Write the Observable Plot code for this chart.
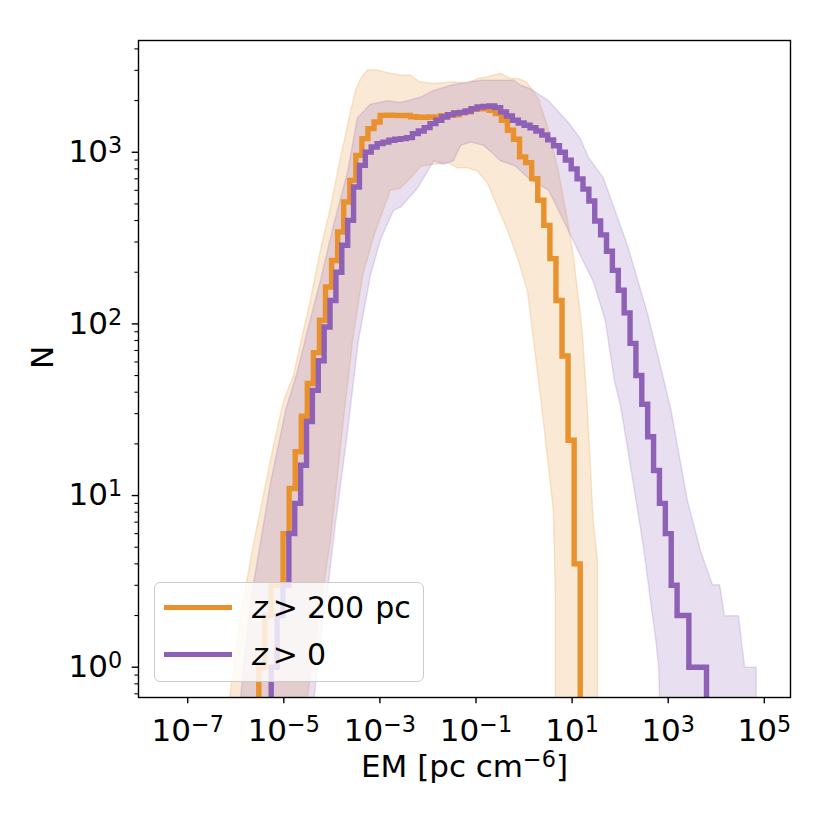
<!DOCTYPE html>
<html><head><meta charset="utf-8">
<script src="https://cdn.jsdelivr.net/npm/d3@7"></script>
<script src="https://cdn.jsdelivr.net/npm/@observablehq/plot@0.6"></script>
<style>
html,body{margin:0;padding:0;background:#fff;}
#wrap{position:relative;width:830px;height:830px;font-family:"DejaVu Sans",sans-serif;overflow:hidden;}
#legend{position:absolute;left:154px;top:582px;width:270px;height:100px;box-sizing:border-box;border:1.4px solid #cccccc;border-radius:6px;background:rgba(255,255,255,0.8);}
.sw{position:absolute;left:9px;width:68px;height:5.4px;}
.lt{position:absolute;left:97px;font-size:30px;line-height:30px;color:#000;white-space:nowrap;font-family:"DejaVu Sans";}
.lt i{font-style:italic;}
</style></head>
<body><div id="wrap"></div>
<script>
// ---- data ----
const ORANGE = "#E8912D", PURPLE = "#8E60B6";
// histogram counts per log-bin
const orangeCounts = [1,2,3,3,6,11,18,29,45,68,105,164,234,343,513,686,959,1200,1372,1500,1640,1645,1640,1635,1640,1610,1600,1600,1605,1600,1630,1640,1650,1700,1720,1780,1790,1800,1754,1680,1535,1342,1190,940,870,702,525,375,240,137,65,21,4];
const orangeBinStartLog = -5.52, orangeBinWidthLog = 0.1262;
const purpleCounts = [1,2,3,6,9,15,27,41,61,96,137,200,287,401,627,839,1002,1072,1122,1146,1174,1190,1200,1217,1283,1330,1391,1468,1535,1603,1657,1692,1708,1738,1795,1834,1851,1858,1820,1715,1625,1535,1480,1436,1390,1330,1260,1180,1090,1000,900,800,700,610,520,398,330,265,205,157,116,77,50,34,22,14,9,6,3,2,2,1,1,1];
const purpleBinStartLog = -5.262, purpleBinWidthLog = 0.12242;
// shaded bands: [log10 EM, log10 N]
const orangeBandUpper = [[-6.13,-0.18],[-5.90,0.30],[-5.76,0.52],[-5.63,0.72],[-5.42,1.01],[-5.21,1.30],[-5.01,1.55],[-4.80,1.70],[-4.65,1.89],[-4.44,2.15],[-4.24,2.43],[-4.03,2.68],[-3.82,2.97],[-3.61,3.24],[-3.51,3.36],[-3.40,3.43],[-3.26,3.48],[-3.09,3.48],[-2.78,3.46],[-2.57,3.45],[-2.37,3.45],[-2.17,3.41],[-1.88,3.40],[-1.47,3.41],[-1.17,3.40],[-0.97,3.43],[-0.76,3.44],[-0.49,3.46],[-0.28,3.43],[-0.12,3.43],[0.05,3.41],[0.30,3.31],[0.51,3.13],[0.72,2.88],[0.90,2.61],[1.03,2.39],[1.21,1.96],[1.32,1.50],[1.44,0.85],[1.53,0.62],[1.53,-0.5]];
const orangeBandLower = [[-6.13,-0.5],[-4.51,-0.5],[-4.51,-0.18],[-4.28,0.27],[-4.03,0.74],[-3.76,1.44],[-3.57,1.90],[-3.36,2.28],[-3.13,2.51],[-2.78,2.78],[-2.57,2.79],[-2.36,2.85],[-2.15,2.92],[-1.88,2.93],[-1.59,2.94],[-1.39,2.91],[-1.18,2.91],[-0.97,2.89],[-0.76,2.82],[-0.55,2.68],[-0.34,2.54],[-0.13,2.38],[0.07,2.19],[0.20,1.90],[0.34,1.58],[0.51,1.16],[0.61,0.91],[0.65,0.39],[0.65,-0.18],[0.67,-0.5],[1.53,-0.5]];
const purpleBandUpper = [[-5.90,-0.18],[-5.69,0.39],[-5.49,0.72],[-5.28,1.07],[-4.96,1.50],[-4.71,1.73],[-4.51,1.96],[-4.24,2.25],[-3.97,2.57],[-3.67,2.89],[-3.47,3.20],[-3.20,3.28],[-2.84,3.30],[-2.57,3.29],[-2.16,3.32],[-1.88,3.36],[-1.53,3.39],[-1.18,3.41],[-0.84,3.42],[-0.49,3.42],[-0.22,3.42],[-0.07,3.39],[0.13,3.37],[0.51,3.30],[0.93,3.17],[1.17,3.08],[1.34,2.97],[1.65,2.85],[2.15,2.46],[2.57,2.06],[3.05,1.51],[3.40,0.97],[3.67,0.68],[3.92,0.48],[4.07,0.48],[4.17,0.30],[4.46,0.30],[4.59,0.0],[4.83,0.0],[4.83,-0.5]];
const purpleBandLower = [[-5.90,-0.5],[-4.37,-0.5],[-4.37,-0.18],[-4.24,0.16],[-4.09,0.45],[-3.92,0.85],[-3.67,1.38],[-3.45,1.90],[-3.20,2.28],[-2.99,2.49],[-2.72,2.66],[-2.57,2.68],[-2.22,2.79],[-1.88,2.95],[-1.68,2.93],[-1.47,2.95],[-1.32,3.04],[-1.11,3.06],[-0.84,3.04],[-0.64,2.99],[-0.49,2.95],[-0.18,2.92],[0.13,2.84],[0.51,2.78],[0.86,2.58],[1.17,2.40],[1.45,2.24],[1.69,2.02],[1.88,1.67],[2.01,1.52],[2.28,1.06],[2.49,0.69],[2.63,0.39],[2.74,0.16],[2.80,0.01],[2.82,-0.18],[2.82,-0.5],[4.83,-0.5]];
// axes
const xTicks = [1e-7,1e-5,1e-3,1e-1,1e1,1e3,1e5];
const yTicks = [1,10,100,1000];
const yMinor = [0.7,0.8,0.9,2,3,4,5,6,7,8,9,20,30,40,50,60,70,80,90,200,300,400,500,600,700,800,900,2000,3000,4000];
const xLabel = "EM [pc cm^{\u22126}]";
const yLabel = "N";

// ---- build ----
const FS = 31;
const BELOW = 10 ** -0.6;
function steps(counts, start, w) {
  const pts = [{x: 10 ** start, y: BELOW}];
  counts.forEach((c, k) => pts.push({x: 10 ** (start + k * w), y: c}));
  const end = 10 ** (start + counts.length * w);
  pts.push({x: end, y: counts[counts.length - 1]});
  pts.push({x: end, y: BELOW});
  return pts;
}
function polygon(upper, lower) {
  return upper.concat(lower.slice().reverse()).map(([lx, ly]) => ({x: 10 ** lx, y: 10 ** ly}));
}
const expFmt = d => "10^{" + String(Math.round(Math.log10(d))).replace("-", "\u2212") + "}";

const chart = Plot.plot({
  width: 830, height: 830,
  marginLeft: 138, marginRight: 40, marginTop: 40, marginBottom: 133,
  x: {type: "log", domain: [10 ** -8.024, 10 ** 5.545]},
  y: {type: "log", domain: [10 ** -0.1765, 10 ** 3.651]},
  style: {fontFamily: "DejaVu Sans", fontSize: FS + "px", background: "white", color: "black"},
  marks: [
    Plot.line(polygon(orangeBandUpper, orangeBandLower), {x: "x", y: "y", fill: ORANGE, fillOpacity: 0.2, stroke: ORANGE, strokeOpacity: 0.2, strokeWidth: 1.5, curve: "linear", clip: true}),
    Plot.line(polygon(purpleBandUpper, purpleBandLower), {x: "x", y: "y", fill: PURPLE, fillOpacity: 0.2, stroke: PURPLE, strokeOpacity: 0.2, strokeWidth: 1.5, curve: "linear", clip: true}),
    Plot.line(steps(orangeCounts, orangeBinStartLog, orangeBinWidthLog), {x: "x", y: "y", stroke: ORANGE, strokeWidth: 5.4, curve: "step-after", strokeLinejoin: "miter", strokeLinecap: "butt", strokeMiterlimit: 4, clip: true}),
    Plot.line(steps(purpleCounts, purpleBinStartLog, purpleBinWidthLog), {x: "x", y: "y", stroke: PURPLE, strokeWidth: 5.4, curve: "step-after", strokeLinejoin: "miter", strokeLinecap: "butt", strokeMiterlimit: 4, clip: true}),
    Plot.axisX({ticks: xTicks, tickFormat: expFmt, tickSize: 6.3, tickPadding: 15, fontSize: FS, strokeWidth: 1.4, label: null}),
    Plot.axisY({ticks: yTicks, tickFormat: expFmt, tickSize: 6.3, tickPadding: 10, fontSize: FS, strokeWidth: 1.4, label: null}),
    Plot.axisY({ticks: yMinor, tickFormat: () => "", tickSize: 3.6, strokeWidth: 1.1, label: null}),
    Plot.frame({stroke: "black", strokeWidth: 1.4}),
    Plot.text([xLabel], {frameAnchor: "bottom", dy: 79, fontSize: FS, fill: "black"}),
    Plot.text([yLabel], {frameAnchor: "left", dx: -95, rotate: -90, fontSize: FS, fill: "black"})
  ]
});

// superscripts as tspans
chart.querySelectorAll("text").forEach(t => {
  const s = t.textContent;
  if (!s.includes("^{")) return;
  while (t.firstChild) t.removeChild(t.firstChild);
  const re = /\^\{([^}]*)\}/g;
  let last = 0, m; const parts = [];
  while ((m = re.exec(s))) { parts.push([s.slice(last, m.index), false]); parts.push([m[1], true]); last = re.lastIndex; }
  parts.push([s.slice(last), false]);
  const shift = 0.3 * FS; let raised = false;
  for (const [str, sup] of parts) {
    if (!str) continue;
    const ts = document.createElementNS("http://www.w3.org/2000/svg", "tspan");
    ts.textContent = str;
    if (sup) { ts.setAttribute("font-size", (0.72 * FS) + "px"); if (!raised) { ts.setAttribute("dy", (-shift) + "px"); raised = true; } }
    else if (raised) { ts.setAttribute("dy", shift + "px"); raised = false; }
    t.appendChild(ts);
  }
});

const wrap = document.getElementById("wrap");
wrap.appendChild(chart);

// legend
const legend = document.createElement("div");
legend.id = "legend";
const entries = [
  {color: ORANGE, html: '<i>z</i><span style="margin-left:5px">&gt;</span><span style="margin-left:9px">200</span><span style="margin-left:11px">pc</span>', sw: 22, tt: 10},
  {color: PURPLE, html: '<i>z</i><span style="margin-left:5px">&gt;</span><span style="margin-left:9px">0</span>', sw: 68.6, tt: 57}
];
entries.forEach(e => {
  const sw = document.createElement("div"); sw.className = "sw"; sw.style.top = e.sw + "px"; sw.style.background = e.color; legend.appendChild(sw);
  const lt = document.createElement("div"); lt.className = "lt"; lt.style.top = e.tt + "px"; lt.innerHTML = e.html; legend.appendChild(lt);
});
wrap.appendChild(legend);
</script>
</body></html>
